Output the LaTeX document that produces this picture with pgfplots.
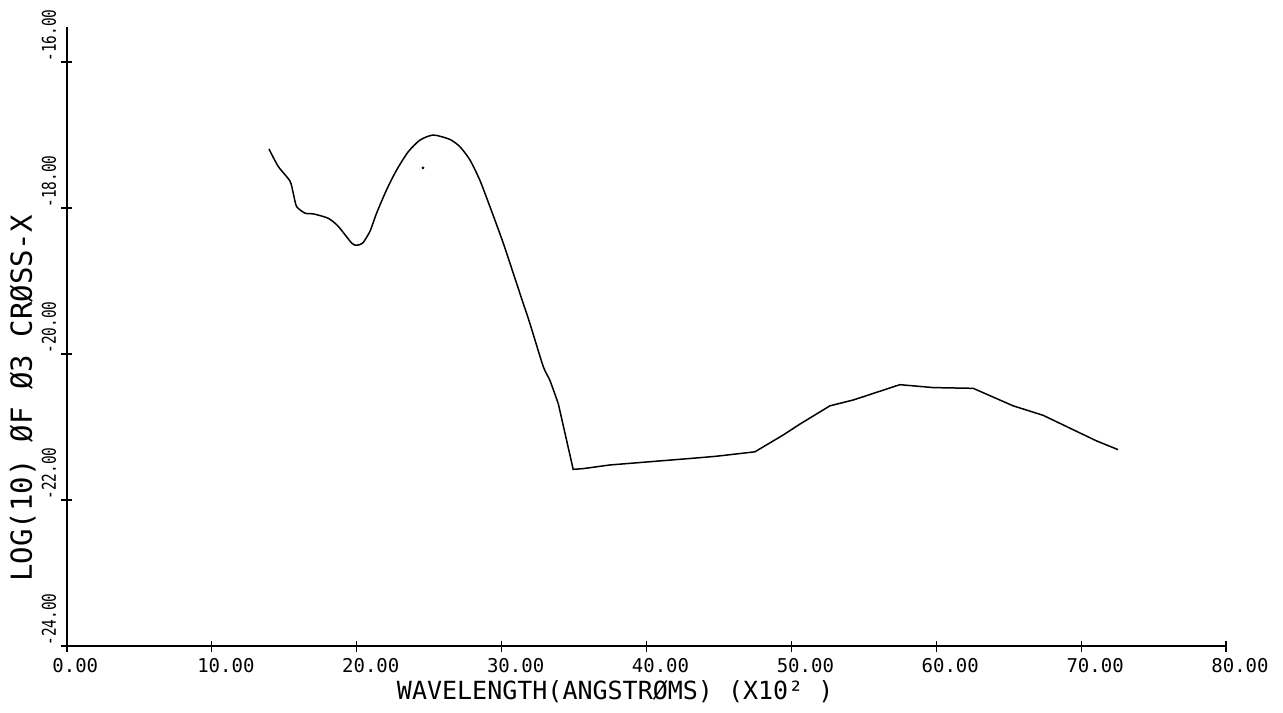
\documentclass[border=0pt]{standalone}
\usepackage{pgfplots}
\pgfplotsset{compat=1.18}
\usepackage{fontspec}
\setmainfont{DejaVu Sans Mono}
\newfontfamily\plotfont{DejaVu Sans Mono}
\newfontfamily\ytfont[FakeStretch=0.76]{DejaVu Sans Mono}
\begin{document}
\begin{tikzpicture}
\begin{axis}[
  anchor=south west,
  at={(0pt,0pt)},
  scale only axis,
  width=579.5pt, height=309.5pt,
  xmin=0, xmax=80, ymin=-24, ymax=-15.52,
  axis x line=bottom, axis y line=left,
  axis line style={-, line width=0.7pt, black},
  xtick={0,10,20,30,40,50,60,70,80},
  xticklabels={0.00,10.00,20.00,30.00,40.00,50.00,60.00,70.00,80.00},
  ytick={-24,-22,-20,-18,-16},
  yticklabels={-24.00,-22.00,-20.00,-18.00,-16.00},
  tick align=center,
  major tick length=5.5pt,
  tick style={line width=0.6pt, black},
  xticklabel style={font=\plotfont\fontsize{9.5}{10}\selectfont, anchor=north west, inner sep=0pt, xshift=-7.5pt, yshift=-3pt},
  yticklabel style={font=\ytfont\fontsize{9.5}{10}\selectfont, rotate=90, anchor=south west, inner sep=0pt},
  yticklabel shift=2.5pt,
  every axis x label/.style={at={(axis description cs:0.473,-0.087)}, anchor=base, inner sep=0pt},
  every axis y label/.style={at={(axis description cs:-0.0302,0.40)}, rotate=90, anchor=base, inner sep=0pt},
  xlabel={\plotfont\fontsize{12.5}{13}\selectfont WAVELENGTH(ANGSTRØMS) (X10² )},
  ylabel={\plotfont\fontsize{14.5}{15}\selectfont LOG(10) ØF Ø3 CRØSS-X},
  clip=false,
]
\addplot[black, line width=0.75pt, smooth, tension=0.4] coordinates {
(13.94,-17.19) (14.58,-17.43) (15.39,-17.63) (15.62,-17.80) (15.85,-17.98)
(16.43,-18.07) (17.00,-18.08) (18.03,-18.14) (18.72,-18.25) (19.65,-18.48)
(19.99,-18.51) (20.41,-18.48) (20.91,-18.32) (21.37,-18.07) (22.06,-17.75)
(22.75,-17.48) (23.55,-17.23) (24.36,-17.07) (25.28,-17.00) (26.43,-17.06)
(27.12,-17.16) (27.81,-17.34) (28.50,-17.62) (29.19,-17.98) (30.11,-18.48)
(31.38,-19.24) (31.95,-19.58) (32.87,-20.17) (33.33,-20.36) (33.91,-20.68)
};
\addplot[black, line width=0.75pt] coordinates {
(33.91,-20.68)
(34.94,-21.58) (35.63,-21.57) (37.47,-21.52) (43.69,-21.42) (44.84,-21.40)
(47.48,-21.34) (49.43,-21.11) (50.59,-20.96) (52.66,-20.71) (54.27,-20.63)
(57.49,-20.42) (59.79,-20.46) (62.55,-20.47) (65.31,-20.71) (67.38,-20.84)
(71.06,-21.19) (72.55,-21.31)
};
\addplot[only marks, mark=*, mark size=0.5pt, black] coordinates {(24.57,-17.45)};
\end{axis}
\pgfresetboundingbox
\path (-33.5pt,-33pt) rectangle (608pt,323pt);
\end{tikzpicture}
\end{document}
